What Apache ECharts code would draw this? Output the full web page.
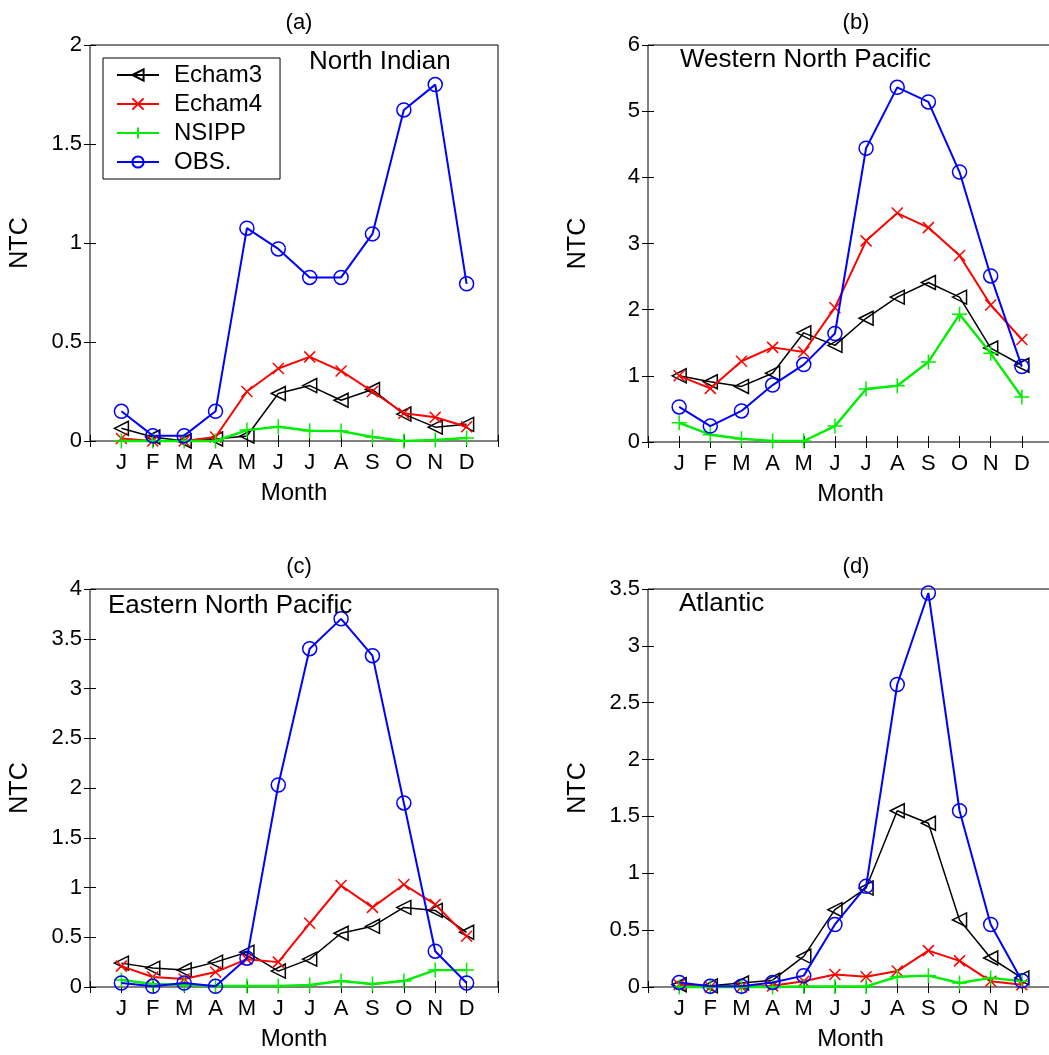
<!DOCTYPE html>
<html>
<head>
<meta charset="utf-8">
<script src="https://cdn.jsdelivr.net/npm/echarts@6/dist/echarts.min.js"></script>
<style>
  html, body { margin: 0; padding: 0; background: #fff; }
  #chart { width: 1049px; height: 1055px; }
</style>
</head>
<body>
<div id="chart"></div>
<script>
// month tick labels (x = 1..12)
var months = ['J', 'F', 'M', 'A', 'M', 'J', 'J', 'A', 'S', 'O', 'N', 'D'];
var monthIdx = [1, 2, 3, 4, 5, 6, 7, 8, 9, 10, 11, 12];

// (a) North Indian
var niEcham3 = [0.064, 0.02, 0.0, 0.01, 0.025, 0.24, 0.28, 0.206, 0.26, 0.136, 0.07, 0.084];
var niEcham4 = [0.013, 0.0, 0.0, 0.02, 0.25, 0.366, 0.425, 0.354, 0.25, 0.14, 0.12, 0.072];
var niNsipp  = [0.0, 0.0, 0.0, 0.0, 0.055, 0.072, 0.052, 0.05, 0.02, 0.0, 0.005, 0.015];
var niObs    = [0.15, 0.027, 0.027, 0.15, 1.075, 0.97, 0.826, 0.826, 1.046, 1.672, 1.8, 0.794];

// (b) Western North Pacific
var wnpEcham3 = [1.0, 0.91, 0.84, 1.04, 1.65, 1.46, 1.87, 2.19, 2.41, 2.19, 1.42, 1.16];
var wnpEcham4 = [1.0, 0.81, 1.22, 1.43, 1.36, 2.03, 3.04, 3.46, 3.24, 2.82, 2.07, 1.55];
var wnpNsipp  = [0.29, 0.11, 0.05, 0.015, 0.015, 0.24, 0.8, 0.85, 1.21, 1.93, 1.34, 0.68];
var wnpObs    = [0.53, 0.24, 0.47, 0.86, 1.17, 1.64, 4.44, 5.36, 5.14, 4.08, 2.51, 1.14];

// (c) Eastern North Pacific
var enpEcham3 = [0.24, 0.19, 0.17, 0.25, 0.35, 0.16, 0.28, 0.54, 0.61, 0.8, 0.77, 0.55];
var enpEcham4 = [0.21, 0.1, 0.08, 0.15, 0.28, 0.25, 0.64, 1.02, 0.8, 1.03, 0.83, 0.51];
var enpNsipp  = [0.07, 0.03, 0.02, 0.01, 0.01, 0.01, 0.02, 0.06, 0.03, 0.06, 0.17, 0.17];
var enpObs    = [0.04, 0.007, 0.04, 0.007, 0.29, 2.03, 3.4, 3.7, 3.33, 1.85, 0.36, 0.04];

// (d) Atlantic
var atlEcham3 = [0.02, 0.01, 0.035, 0.06, 0.27, 0.68, 0.87, 1.55, 1.44, 0.59, 0.255, 0.08];
var atlEcham4 = [0.02, 0.0, 0.0, 0.01, 0.05, 0.11, 0.09, 0.14, 0.32, 0.23, 0.05, 0.02];
var atlNsipp  = [0.0, 0.0, 0.0, 0.0, 0.005, 0.005, 0.005, 0.09, 0.1, 0.035, 0.08, 0.05];
var atlObs    = [0.04, 0.006, 0.006, 0.04, 0.1, 0.55, 0.885, 2.66, 3.465, 1.55, 0.55, 0.055];

var yMax = [2, 6, 4, 3.5];
var yStep = [0.5, 1, 0.5, 0.5];
var regionNames = ['North Indian', 'Western North Pacific', 'Eastern North Pacific', 'Atlantic'];
var panelTags = ['(a)', '(b)', '(c)', '(d)'];

var panels = [
  [niEcham3, niEcham4, niNsipp, niObs],
  [wnpEcham3, wnpEcham4, wnpNsipp, wnpObs],
  [enpEcham3, enpEcham4, enpNsipp, enpObs],
  [atlEcham3, atlEcham4, atlNsipp, atlObs]
];

var FONT = 'Liberation Sans';

// plot boxes; right column runs a little past the page edge like the original
var boxes = [
  { left: 90, top: 45, width: 408, height: 396, cx: 294 },
  { left: 648, top: 45, width: 405, height: 397, cx: 851 },
  { left: 90, top: 589, width: 408, height: 398, cx: 294 },
  { left: 648, top: 589, width: 405, height: 398, cx: 851 }
];

var seriesDefs = [
  { name: 'Echam3', color: '#000', width: 1.5, symbol: 'triangle', rotate: 90, size: 14, fill: 'rgba(0,0,0,0)' },
  { name: 'Echam4', color: '#ff0000', width: 2, symbol: 'path://M0,0L10,10M10,0L0,10', rotate: 0, size: 11, fill: '#ff0000' },
  { name: 'NSIPP', color: '#00ee00', width: 2.4, symbol: 'path://M5,0L5,10M0,5L10,5', rotate: 0, size: 15, fill: '#00ee00' },
  { name: 'OBS.', color: '#0000ff', width: 2, symbol: 'circle', rotate: 0, size: 14, fill: 'rgba(0,0,0,0)' }
];

function pairs(vals) {
  return monthIdx.map(function (m, i) { return [m, vals[i]]; });
}

var grid = [], xAxis = [], yAxis = [], series = [], title = [];

boxes.forEach(function (b, p) {
  grid.push({
    left: b.left, top: b.top, width: b.width, height: b.height,
    outerBoundsMode: 'none', containLabel: false,
    show: true, borderColor: '#000', borderWidth: 1, backgroundColor: '#fff'
  });
  // bottom x axis
  xAxis.push({
    gridIndex: p, type: 'value', min: 0, max: 13, interval: 1,
    name: 'Month', nameLocation: 'middle', nameGap: 40,
    nameTextStyle: { fontFamily: FONT, fontSize: 24, color: '#000' },
    axisLine: { show: false },
    axisTick: { inside: true, length: 6, lineStyle: { color: '#000' } },
    splitLine: { show: false },
    axisLabel: {
      margin: 11, fontFamily: FONT, fontSize: 22, color: '#000',
      formatter: function (v) { return months[v - 1] || ''; }
    }
  });
  // top x axis (ticks only)
  xAxis.push({
    gridIndex: p, type: 'value', min: 0, max: 13, interval: 1, position: 'top',
    axisLine: { show: false },
    axisTick: { inside: true, length: 6, lineStyle: { color: '#000' } },
    splitLine: { show: false },
    axisLabel: { show: false }
  });
  yAxis.push({
    gridIndex: p, type: 'value', min: 0, max: yMax[p], interval: yStep[p],
    name: 'NTC', nameLocation: 'middle', nameGap: 57, nameRotate: 90,
    nameTextStyle: { fontFamily: FONT, fontSize: 25, color: '#000' },
    axisLine: { show: false },
    axisTick: { inside: true, length: 6, lineStyle: { color: '#000' } },
    splitLine: { show: false },
    axisLabel: { margin: 8, fontFamily: FONT, fontSize: 22, color: '#000' }
  });
  yAxis.push({
    gridIndex: p, type: 'value', min: 0, max: yMax[p], interval: yStep[p], position: 'right',
    axisLine: { show: false },
    axisTick: { inside: true, length: 6, lineStyle: { color: '#000' } },
    splitLine: { show: false },
    axisLabel: { show: false }
  });

  seriesDefs.forEach(function (d, k) {
    series.push({
      name: d.name, type: 'line',
      xAxisIndex: p * 2, yAxisIndex: p * 2,
      data: pairs(panels[p][k]),
      symbol: d.symbol, symbolSize: d.size, symbolRotate: d.rotate,
      showAllSymbol: true, animation: false, clip: false,
      lineStyle: { color: d.color, width: d.width },
      itemStyle: { color: d.fill, borderColor: d.color, borderWidth: 1.5 },
      emphasis: { disabled: true },
      z: 2 + k
    });
  });

  title.push({
    text: panelTags[p],
    left: b.cx, top: b.top - 38, textAlign: 'center',
    textStyle: { fontFamily: FONT, fontSize: 22, fontWeight: 'normal', color: '#000' }
  });
});

// region labels inside each box
var regionPos = [[309, 49], [680, 47], [108, 593], [679, 591]];
regionNames.forEach(function (txt, i) {
  title.push({
    text: txt, left: regionPos[i][0], top: regionPos[i][1], padding: 0,
    textStyle: { fontFamily: FONT, fontSize: 26, fontWeight: 'normal', color: '#000' }
  });
});

var chart = echarts.init(document.getElementById('chart'));
chart.setOption({
  backgroundColor: '#fff',
  animation: false,
  title: title,
  legend: {
    orient: 'vertical', left: 103, top: 58,
    data: ['Echam3', 'Echam4', 'NSIPP', 'OBS.'],
    itemWidth: 42, itemHeight: 14, itemGap: 5,
    padding: [5, 18, 5, 13],
    backgroundColor: '#fff', borderColor: '#000', borderWidth: 1,
    textStyle: { fontFamily: FONT, fontSize: 24, color: '#000', padding: [0, 0, 0, 10] },
    selectedMode: false
  },
  grid: grid,
  xAxis: xAxis,
  yAxis: yAxis,
  series: series
});
</script>
</body>
</html>
